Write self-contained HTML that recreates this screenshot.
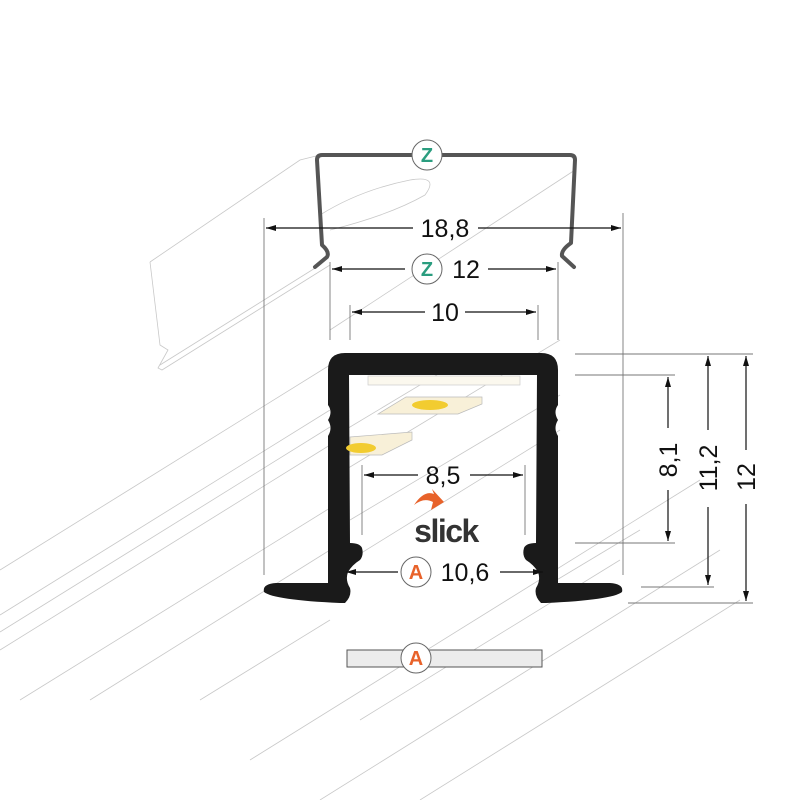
<!DOCTYPE html>
<html><head><meta charset="utf-8"><style>html,body{margin:0;padding:0;background:#fff}svg{display:block}</style></head>
<body>
<svg width="800" height="800" viewBox="0 0 800 800" xmlns="http://www.w3.org/2000/svg" font-family="Liberation Sans, sans-serif">
<defs>
<marker id="ar" viewBox="0 0 10 6" refX="10" refY="3" markerWidth="11" markerHeight="6" orient="auto-start-reverse" markerUnits="userSpaceOnUse"><path d="M0,0 L10,3 L0,6 z" fill="#111"/></marker>
</defs>
<g stroke="#c8c8c8" stroke-width="0.8" fill="none">
<line x1="0" y1="570" x2="330" y2="365"/>
<line x1="0" y1="615" x2="330" y2="410"/>
<line x1="0" y1="632" x2="330" y2="427"/>
<line x1="0" y1="650" x2="330" y2="445"/>
<line x1="20" y1="700" x2="330" y2="508"/>
<line x1="90" y1="700" x2="330" y2="550"/>
<line x1="200" y1="700" x2="330" y2="620"/>
<line x1="250" y1="760" x2="700" y2="480"/>
<line x1="320" y1="800" x2="720" y2="550"/>
<line x1="420" y1="800" x2="740" y2="600"/>
<line x1="360" y1="720" x2="620" y2="560"/>
<line x1="345" y1="470" x2="560" y2="340"/>
<line x1="345" y1="430" x2="470" y2="355"/>
<line x1="350" y1="520" x2="560" y2="395"/>
<line x1="350" y1="560" x2="560" y2="430"/>
<line x1="540" y1="590" x2="640" y2="530"/>
<line x1="160" y1="365" x2="320" y2="265"/>
<line x1="330" y1="330" x2="575" y2="170"/>
<path d="M150,262 L300,160 L320,155 M150,262 L160,345 L168,350 L158,368 L162,370 L330,265"/>
<path d="M320,215 Q360,190 410,180 Q440,175 425,195 Q390,215 330,230"/>
</g>
<g stroke="#777" stroke-width="0.9">
<line x1="264" y1="218" x2="264" y2="575"/>
<line x1="623" y1="213" x2="623" y2="575"/>
<line x1="330" y1="262" x2="330" y2="340"/>
<line x1="558" y1="262" x2="558" y2="340"/>
<line x1="350" y1="305" x2="350" y2="340"/>
<line x1="538" y1="305" x2="538" y2="340"/>
<line x1="362" y1="465" x2="362" y2="535"/>
<line x1="525" y1="465" x2="525" y2="535"/>
<line x1="575" y1="354" x2="753" y2="354"/>
<line x1="575" y1="375" x2="675" y2="375"/>
<line x1="575" y1="543" x2="675" y2="543"/>
<line x1="641" y1="587" x2="714" y2="587"/>
<line x1="628" y1="603" x2="753" y2="603"/>
</g>
<path d="M315,267 L327,257 Q330,252 322,245 L317,160 Q317,155 322,155 L570,155 Q575,155 575,160 L571,243 Q561,250 562,256 L574,267" fill="none" stroke="#555" stroke-width="4" stroke-linejoin="round" stroke-linecap="round"/>
<path d="M328,370 Q328,353 345,353 L541,353 Q558,353 558,370 L558,405 Q553,412 558,420 Q553,428 558,436 L558,583 L610,583 Q624,584 622,592 Q612,600 546,603 L541,603 Q534,596 536,588 Q541,580 538,572 Q534,565 526,560 Q522,555 524,548 Q526,543 536,543 L537,375 L349,375 L350,543 Q360,543 362,548 Q364,555 360,560 Q352,565 348,572 Q345,580 350,588 Q352,596 345,603 L340,603 Q274,600 264,592 Q262,584 276,583 L328,583 L328,436 Q333,428 328,420 Q333,412 328,405 Z" fill="#1a1a1a"/>
<rect x="368" y="376" width="152" height="9" fill="#fbf8ee" stroke="#ccc" stroke-width="0.7"/>
<path d="M378,414 L406,397 L482,397 L482,404 L458,414 Z" fill="#f8f0d8" stroke="#bbb" stroke-width="0.7"/>
<ellipse cx="430" cy="405" rx="18" ry="5" fill="#f2cc30"/>
<path d="M350,437 L412,432 L412,440 L382,455 L350,455 Z" fill="#f8f0d8" stroke="#bbb" stroke-width="0.7"/>
<ellipse cx="361" cy="448" rx="15" ry="5" fill="#f2cc30"/>
<g stroke="#111" stroke-width="1.2" fill="none">
<line x1="266" y1="228" x2="413" y2="228" marker-start="url(#ar)"/>
<line x1="478" y1="228" x2="621" y2="228" marker-end="url(#ar)"/>
<line x1="332" y1="269" x2="405" y2="269" marker-start="url(#ar)"/>
<line x1="488" y1="269" x2="556" y2="269" marker-end="url(#ar)"/>
<line x1="352" y1="312" x2="425" y2="312" marker-start="url(#ar)"/>
<line x1="465" y1="312" x2="536" y2="312" marker-end="url(#ar)"/>
<line x1="364" y1="475" x2="418" y2="475" marker-start="url(#ar)"/>
<line x1="470" y1="475" x2="523" y2="475" marker-end="url(#ar)"/>
<line x1="346" y1="572" x2="398" y2="572" marker-start="url(#ar)"/>
<line x1="500" y1="572" x2="543" y2="572" marker-end="url(#ar)"/>
<line x1="668" y1="377" x2="668" y2="428" marker-start="url(#ar)"/>
<line x1="668" y1="490" x2="668" y2="541" marker-end="url(#ar)"/>
<line x1="708" y1="356" x2="708" y2="430" marker-start="url(#ar)"/>
<line x1="708" y1="507" x2="708" y2="585" marker-end="url(#ar)"/>
<line x1="746" y1="356" x2="746" y2="450" marker-start="url(#ar)"/>
<line x1="746" y1="504" x2="746" y2="601" marker-end="url(#ar)"/>
</g>
<g font-size="25" fill="#111">
<text x="445" y="237" text-anchor="middle">18,8</text>
<text x="466" y="278" text-anchor="middle">12</text>
<text x="445" y="321" text-anchor="middle">10</text>
<text x="443" y="484" text-anchor="middle">8,5</text>
<text x="465" y="581" text-anchor="middle">10,6</text>
<text transform="translate(677,460) rotate(-90)" text-anchor="middle">8,1</text>
<text transform="translate(717,468) rotate(-90)" text-anchor="middle">11,2</text>
<text transform="translate(755,477) rotate(-90)" text-anchor="middle">12</text>
</g>
<rect x="347" y="650" width="195" height="17" fill="#ececec" stroke="#555" stroke-width="1"/>
<g font-weight="bold" font-size="20" text-anchor="middle">
<circle cx="427" cy="155" r="15" fill="#fff" stroke="#666" stroke-width="1"/>
<text x="427" y="162" fill="#2a9d7f">Z</text>
<circle cx="427" cy="269" r="15" fill="#fff" stroke="#666" stroke-width="1"/>
<text x="427" y="276" fill="#2a9d7f">Z</text>
<circle cx="416" cy="572" r="15" fill="#fff" stroke="#666" stroke-width="1"/>
<text x="416" y="579" fill="#e8622a">A</text>
<circle cx="416" cy="658" r="15" fill="#fff" stroke="#666" stroke-width="1"/>
<text x="416" y="665" fill="#e8622a">A</text>
</g>
<path d="M414,505 Q424,490 434,494 L432,489 L444,502 L431,510 L433,502 Q424,497 414,505 Z" fill="#e8622a"/>
<text x="446" y="542" text-anchor="middle" font-size="32" font-weight="bold" fill="#333" letter-spacing="-1.5">slick</text>
</svg>
</body></html>
